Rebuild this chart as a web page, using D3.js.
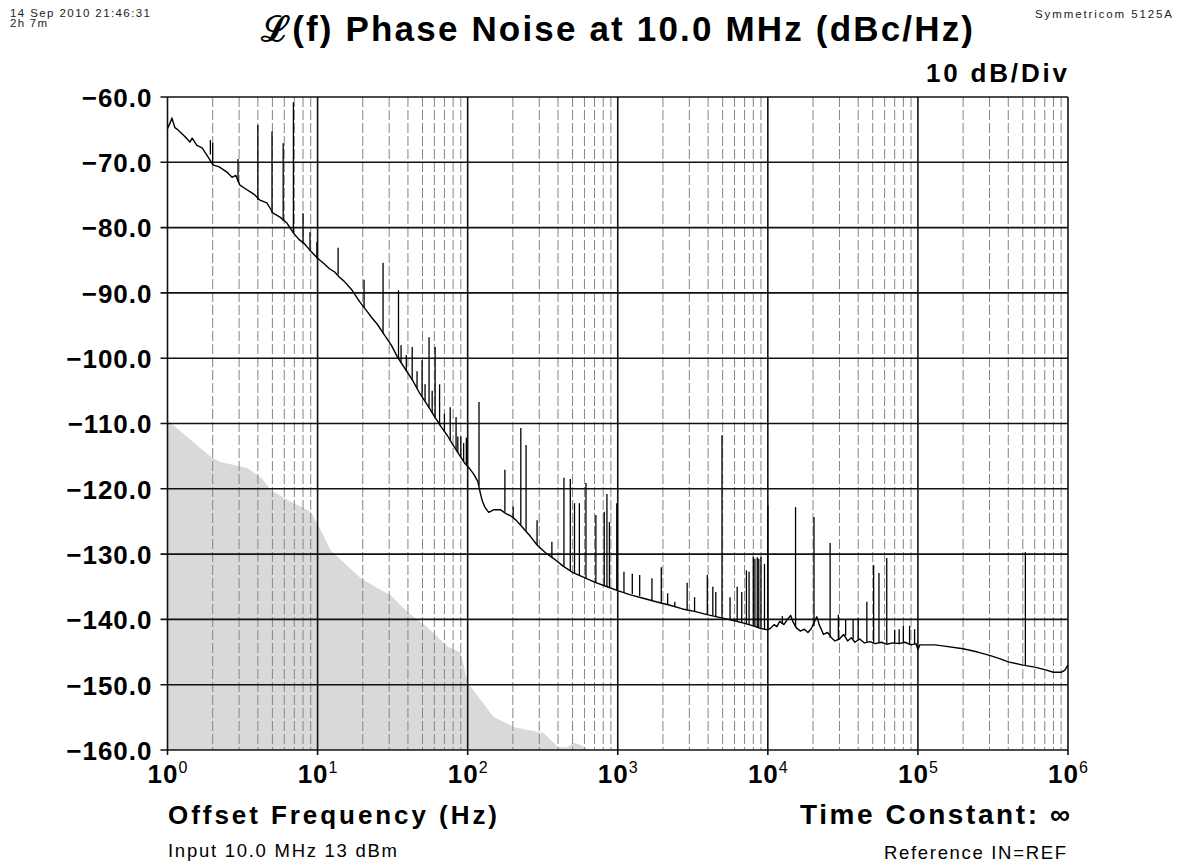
<!DOCTYPE html>
<html><head><meta charset="utf-8">
<script src="https://cdn.jsdelivr.net/npm/d3@7"></script>
<style>body{margin:0;background:#fff}svg{display:block}</style>
</head><body><svg id="c" width="1183" height="867"></svg>
<script>
// ---- data ----
const yTicks = [-60,-70,-80,-90,-100,-110,-120,-130,-140,-150,-160];
const xDecades = [1,10,100,1000,10000,100000,1000000];
const xExponents = ["0","1","2","3","4","5","6"];

const floorFreq = [1,1.94,2.25,3.4,4.2,4.9,6.3,7.4,9,10.5,12.2,19.4,26.3,30.7,39.8,54,73.6,89.8,100,122,148,204,321,398,460,511,560,650,700];
const floorDb   = [-109.5,-115.1,-115.9,-116.8,-118.3,-120.2,-121.7,-122.5,-123.5,-126.3,-129.4,-133.7,-135.5,-136.3,-138.9,-141.2,-144.2,-145.1,-149.7,-152.3,-154.9,-156.5,-157.4,-159.5,-159.6,-158.9,-159.2,-160,-160];

const traceFreq = [1,1.04,1.07,1.12,1.17,1.3,1.41,1.46,1.57,1.7,1.83,2.01,2.21,2.49,2.69,2.85,3.04,3.38,3.54,3.82,4.13,4.59,4.82,5.05,5.62,6.25,6.9,7.5,8.2,9.0,10,11,12,13,14,15,17,19,21,23,25,28,31,34,38,43,48,54,60,67,73,80,88,95,103,110,117,121,125,130,138,150,165,180,195,210,230,260,290,330,380,430,500,600,700,850,1000,1200,1500,1800,2200,2700,3300,4000,5000,6000,7000,8000,9000,10000,10500,11000,11500,12000,12800,13500,14200,14800,15500,16500,17500,18500,19500,21200,22000,23500,25000,26500,28000,30000,32000,34000,36000,38000,41000,44000,48000,52000,57000,62000,68000,75000,82000,90000,97000,100000,103000,110000,130000,150000,200000,250000,300000,350000,400000,500000,600000,700000,800000,900000,950000,1000000];
const traceDb = [-64.8,-64.0,-63.2,-64.7,-65.0,-66.0,-66.9,-66.3,-67.4,-67.8,-68.9,-70.4,-70.7,-71.5,-72.3,-72.0,-73.5,-74.2,-74.5,-75.0,-75.8,-76.2,-77.0,-77.8,-78.4,-79.3,-80.8,-81.8,-82.5,-83.6,-84.7,-85.5,-86.3,-86.8,-87.6,-88.2,-89.6,-91.3,-92.6,-93.8,-94.8,-96.5,-98.0,-99.8,-101.5,-103.4,-105.4,-107.2,-108.9,-110.6,-111.8,-113.3,-114.8,-116.0,-116.9,-117.8,-118.9,-120.5,-121.8,-122.8,-123.6,-123.2,-123.2,-123.8,-124.2,-124.8,-125.8,-127.2,-128.6,-129.8,-130.8,-131.8,-132.8,-133.6,-134.3,-135.0,-135.6,-136.2,-136.8,-137.3,-137.8,-138.4,-138.8,-139.3,-139.8,-140.2,-140.6,-141.0,-141.4,-141.6,-141.3,-140.8,-141.1,-140.3,-140.8,-140.0,-139.4,-140.5,-141.3,-141.8,-141.5,-142.0,-141.4,-139.6,-140.8,-142.3,-142.0,-142.8,-143.3,-143.0,-142.3,-143.3,-142.8,-143.5,-143.0,-143.6,-143.4,-143.7,-143.5,-143.8,-143.6,-143.7,-143.5,-143.9,-143.7,-144.6,-143.9,-143.9,-143.9,-144.1,-144.5,-145.0,-145.5,-146.0,-146.5,-147.0,-147.3,-147.7,-148.1,-148.1,-147.8,-147.0];

const spurFreq = [1.93,2.0,2.95,4.0,4.97,5.9,6.9,8.0,8.9,9.9,13.7,20.4,27.3,34.6,36,39,42.7,46,49.7,52,55.3,58,60.7,65,70,76.5,83.7,86,90,94,98,119,177,201,226,245,290,364,438,483,515,555,614,715,813,847,880,985,1100,1250,1400,1690,1950,2150,2400,2900,3250,3950,4300,4500,4950,5600,6250,6700,7200,7500,8000,8200,8500,8700,9000,9500,10000,12500,15300,20300,26000,29500,33000,37000,40000,45700,50700,55000,62000,70000,75000,80000,88000,95000,520000];
const spurFoot = [-68.8,-70.4,-73.0,-75.8,-77.8,-79.0,-80.8,-82.5,-83.6,-84.7,-87.2,-92.2,-96.2,-100.0,-100.7,-101.8,-103.3,-104.6,-105.9,-106.6,-107.5,-108.4,-109.0,-110.3,-111.2,-112.6,-114.0,-114.5,-115.2,-115.8,-116.3,-119.5,-123.5,-124.4,-125.6,-126.4,-128.6,-130.5,-131.9,-132.6,-132.9,-133.2,-133.7,-134.4,-134.9,-135.0,-135.1,-135.6,-135.9,-136.1,-136.4,-137.1,-137.5,-137.8,-138.1,-138.6,-138.8,-139.3,-139.4,-139.6,-139.8,-140.0,-140.3,-140.5,-140.7,-140.8,-141.0,-141.1,-141.2,-141.3,-141.4,-141.5,-141.6,-140.6,-141.2,-141.0,-142.8,-143.1,-142.5,-143.0,-143.2,-143.6,-143.5,-143.6,-143.7,-143.6,-143.7,-143.5,-143.9,-143.8,-147.0];
const spurPeak = [-66.6,-67.0,-69.5,-64.3,-65.3,-67.1,-60.8,-77.8,-80.7,-82.2,-83.1,-88.0,-85.4,-89.6,-98.0,-99.5,-98.3,-102.0,-100.3,-104.0,-96.8,-105.0,-98.3,-104.0,-108.5,-107.5,-109.0,-112.0,-112.0,-113.0,-112.2,-106.7,-117.1,-122.7,-110.7,-113.3,-124.8,-128.1,-118.3,-118.5,-122.2,-122.2,-119.1,-124.0,-123.5,-120.8,-125.1,-122.2,-132.7,-133.0,-133.2,-133.7,-132.0,-136.0,-137.3,-134.4,-136.6,-133.2,-135.0,-135.8,-111.8,-136.6,-135.0,-135.8,-132.5,-132.7,-130.4,-130.7,-130.5,-130.7,-130.4,-131.5,-122.5,-139.5,-122.8,-124.3,-128.3,-139.3,-140.0,-140.0,-139.8,-137.3,-131.7,-132.9,-130.6,-141.6,-141.5,-141.0,-141.0,-141.5,-129.7];

// ---- chart ----
const svg = d3.select("#c");
const X0 = 167.5, X1 = 1068, Y0 = 97, Y1 = 750;
const x = d3.scaleLog().domain([1,1e6]).range([X0,X1]);
const y = d3.scaleLinear().domain([-160,-60]).range([Y1,Y0]);
const FONT = "'Liberation Sans', Arial, Helvetica, sans-serif";

// noise floor fill
const floorPts = floorFreq.map((f,i)=>[f,floorDb[i]]);
svg.append("path")
  .datum(floorPts)
  .attr("fill","#d9d9d9")
  .attr("d", d3.area().x(d=>x(d[0])).y0(Y1).y1(d=>y(d[1])));

// minor vertical grid (dashed gray)
const minor = [];
xDecades.slice(0,-1).forEach(d=>{ for(let k=2;k<=9;k++) minor.push(d*k); });
svg.append("g").selectAll("line").data(minor).join("line")
  .attr("x1",d=>x(d)).attr("x2",d=>x(d)).attr("y1",Y0).attr("y2",Y1)
  .attr("stroke","#858585").attr("stroke-width",1).attr("stroke-dasharray","10,3");

// major grid
svg.append("g").selectAll("line").data(xDecades).join("line")
  .attr("x1",d=>x(d)).attr("x2",d=>x(d)).attr("y1",Y0).attr("y2",Y1+5)
  .attr("stroke","#111").attr("stroke-width",1.6);
svg.append("g").selectAll("line").data(yTicks).join("line")
  .attr("x1",X0-7).attr("x2",X1).attr("y1",d=>y(d)).attr("y2",d=>y(d))
  .attr("stroke","#111").attr("stroke-width",1.6);

// y axis labels
const yAxis = d3.axisLeft(y).tickValues(yTicks).tickSize(0).tickPadding(0).tickFormat(d3.format(".1f"));
const ga = svg.append("g").attr("transform",`translate(${X0-15},0)`).call(yAxis);
ga.select(".domain").remove();
ga.selectAll("text").attr("font-family",FONT).attr("font-weight","bold")
  .attr("font-size",26).attr("fill","#000").attr("letter-spacing","1px").attr("dy","0.36em");

// x axis labels with superscripts
const xl = svg.append("g").selectAll("text").data(xDecades).join("text")
  .attr("x",d=>x(d)).attr("y",783).attr("text-anchor","middle")
  .attr("font-family",FONT).attr("fill","#000");
xl.append("tspan").attr("font-size",26).attr("font-weight","bold").attr("letter-spacing","1px").text("10");
xl.append("tspan").attr("font-size",16).attr("dy",-10).text((d,i)=>xExponents[i]);

// trace
const tracePts = traceFreq.map((f,i)=>[f,traceDb[i]]);
svg.append("path").datum(tracePts)
  .attr("fill","none").attr("stroke","#000").attr("stroke-width",1.4).attr("stroke-linejoin","round")
  .attr("d", d3.line().x(d=>x(d[0])).y(d=>y(d[1])));

// spurs
svg.append("g").selectAll("line").data(spurFreq).join("line")
  .attr("x1",d=>x(d)).attr("x2",d=>x(d))
  .attr("y1",(d,i)=>y(spurFoot[i])).attr("y2",(d,i)=>y(spurPeak[i]))
  .attr("stroke","#000").attr("stroke-width",1.3);

// texts
function t(txt,xp,yp,size,weight,anchor,len,fill){
  const e = svg.append("text").attr("x",xp).attr("y",yp).attr("font-family",FONT)
    .attr("font-size",size).attr("font-weight",weight).attr("text-anchor",anchor).attr("fill",fill||"#000").text(txt);
  if(len){ e.attr("textLength",len).attr("lengthAdjust","spacing"); }
  return e;
}
t("\u2112(f) Phase Noise at 10.0 MHz (dBc/Hz)", 617, 41, 35, "bold", "middle", 712);
t("10 dB/Div", 1067, 82, 26, "bold", "end", 141);
t("14 Sep 2010 21:46:31", 10, 17, 11.5, "normal", "start", 140, "#222");
t("2h 7m", 10, 27, 11.5, "normal", "start", 37, "#222");
t("Symmetricom 5125A", 1172, 18, 11.5, "normal", "end", 137, "#222");
t("Offset Frequency (Hz)", 168, 824, 26, "bold", "start", 329);
t("Time Constant: \u221E", 1070, 824, 28, "bold", "end", 270);
t("Input 10.0 MHz 13 dBm", 168, 857, 18.5, "normal", "start", 229);
t("Reference IN=REF", 1066, 859, 18.5, "normal", "end", 182);
</script></body></html>
